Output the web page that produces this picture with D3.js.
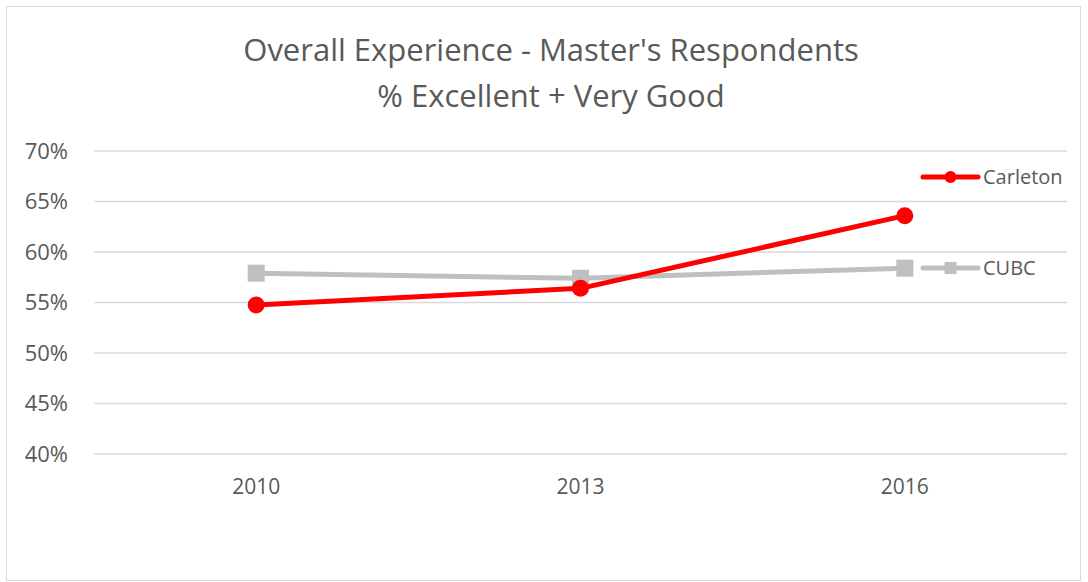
<!DOCTYPE html>
<html>
<head>
<meta charset="utf-8">
<script src="https://cdn.jsdelivr.net/npm/d3@7"></script>
<style>
  body { margin: 0; background: #fff; }
  svg { display: block; }
</style>
</head>
<body>
<div id="chart"></div>
<script>
// data
const years = ["2010", "2013", "2016"];
const carleton = [0.5475, 0.564, 0.636];
const cubc = [0.579, 0.574, 0.584];
const yTicks = [0.40, 0.45, 0.50, 0.55, 0.60, 0.65, 0.70];
const titleLines = ["Overall Experience - Master's Respondents", "% Excellent + Very Good"];

const width = 1088, height = 582;
const plot = { left: 94, right: 1067, top: 151, bottom: 454 };
const textColor = "#595959";
const font = "'Open Sans', sans-serif";

const svg = d3.select("#chart")
    .append("svg")
    .attr("width", width)
    .attr("height", height);

// outer chart border
svg.append("rect")
    .attr("x", 6.5).attr("y", 6.5)
    .attr("width", 1074).attr("height", 574)
    .attr("fill", "#fff")
    .attr("stroke", "#d9d9d9")
    .attr("stroke-width", 1);

// title
svg.append("g")
    .selectAll("text")
    .data(titleLines)
    .join("text")
    .attr("x", 551)
    .attr("y", (d, i) => 61 + i * 46)
    .attr("text-anchor", "middle")
    .attr("font-family", font)
    .attr("font-size", "31px")
    .attr("fill", textColor)
    .text(d => d);

const x = d3.scaleBand().domain(years).range([plot.left, plot.right]).padding(0);
const y = d3.scaleLinear().domain([0.40, 0.70]).range([plot.bottom, plot.top]);

// gridlines
svg.append("g")
    .selectAll("line")
    .data(yTicks)
    .join("line")
    .attr("x1", plot.left).attr("x2", plot.right)
    .attr("y1", d => y(d)).attr("y2", d => y(d))
    .attr("stroke", "#d9d9d9")
    .attr("stroke-width", 1.5);

// y axis labels
const yAxis = svg.append("g")
    .attr("transform", `translate(${plot.left},0)`)
    .call(d3.axisLeft(y).tickValues(yTicks).tickFormat(d3.format(".0%")).tickSize(0).tickPadding(26));
yAxis.select(".domain").remove();
yAxis.selectAll("text")
    .attr("font-family", font)
    .attr("font-size", "22px")
    .attr("fill", textColor);

// x axis labels
const xAxis = svg.append("g")
    .attr("transform", `translate(0,${plot.bottom})`)
    .call(d3.axisBottom(x).tickSize(0).tickPadding(25));
xAxis.select(".domain").remove();
xAxis.selectAll("text")
    .attr("font-family", font)
    .attr("font-size", "21px")
    .attr("fill", textColor);

const cx = d => x(d) + x.bandwidth() / 2;
const line = d3.line().x(d => cx(d.year)).y(d => y(d.value));

const series = [
    { name: "Carleton", values: carleton, color: "#ff0000", shape: "circle", legendY: 177 },
    { name: "CUBC", values: cubc, color: "#bfbfbf", shape: "square", legendY: 268 }
];

// CUBC first so red line sits on top
[series[1], series[0]].forEach(s => {
    const pts = years.map((yr, i) => ({ year: yr, value: s.values[i] }));
    svg.append("path")
        .datum(pts)
        .attr("fill", "none")
        .attr("stroke", s.color)
        .attr("stroke-width", 5)
        .attr("stroke-linejoin", "round")
        .attr("d", line);

    const g = svg.append("g").attr("fill", s.color);
    if (s.shape === "circle") {
        g.selectAll("circle").data(pts).join("circle")
            .attr("cx", d => cx(d.year))
            .attr("cy", d => y(d.value))
            .attr("r", 8.5);
    } else {
        g.selectAll("rect").data(pts).join("rect")
            .attr("x", d => cx(d.year) - 8.5)
            .attr("y", d => y(d.value) - 8.5)
            .attr("width", 17).attr("height", 17);
    }
});

// legend on the right
series.forEach(s => {
    const lg = svg.append("g").attr("transform", `translate(923,${s.legendY})`);
    lg.append("line")
        .attr("x1", 0).attr("x2", 55)
        .attr("stroke", s.color)
        .attr("stroke-width", 5)
        .attr("stroke-linecap", "round");
    if (s.shape === "circle") {
        lg.append("circle").attr("cx", 27.5).attr("r", 6).attr("fill", s.color);
    } else {
        lg.append("rect").attr("x", 21.5).attr("y", -6).attr("width", 12).attr("height", 12).attr("fill", s.color);
    }
    lg.append("text")
        .attr("x", 60)
        .attr("dy", "0.35em")
        .attr("font-family", font)
        .attr("font-size", "20px")
        .attr("fill", textColor)
        .text(s.name);
});
</script>
</body>
</html>
